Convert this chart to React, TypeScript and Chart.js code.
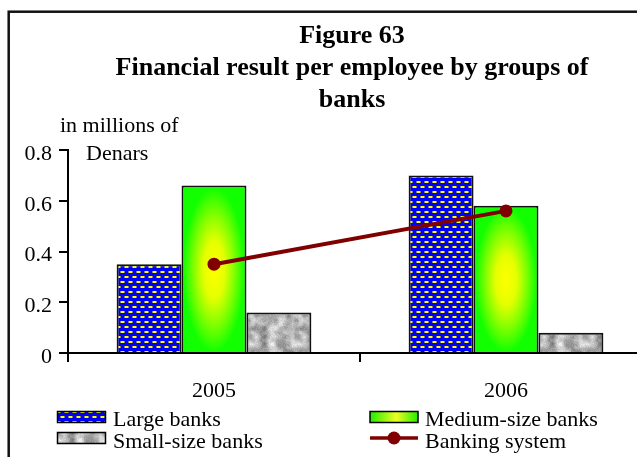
import React, { useEffect, useRef } from 'react';
import { Chart, registerables } from 'chart.js';

Chart.register(...registerables);

const categories = ['2005', '2006'];
const largeBanks = [0.35, 0.7];
const mediumBanks = [0.66, 0.58];
const smallBanks = [0.16, 0.08];
const bankingSystem = [0.35, 0.56];
const yTickLabels = ['0', '0.2', '0.4', '0.6', '0.8'];
const titleLines = ['Figure 63', 'Financial result per employee by groups of', 'banks'];
const unitLines = ['in millions of', 'Denars'];
const seriesNames = ['Large banks', 'Medium-size banks', 'Small-size banks', 'Banking system'];

const FONT = "'Liberation Serif', 'Times New Roman', serif";
const CANVAS_W = 704;
const CANVAS_H = 457;

function makeLargePattern(ctx: CanvasRenderingContext2D): CanvasPattern | string {
  const c = document.createElement('canvas');
  c.width = 8;
  c.height = 10;
  const g = c.getContext('2d');
  if (!g) return '#0000ff';
  g.fillStyle = '#0000ff';
  g.fillRect(0, 0, 8, 10);
  const dash = (x: number, y: number) => {
    g.fillStyle = '#8a8a3a';
    g.fillRect(x, y, 5, 2);
    g.fillStyle = '#ffff00';
    g.fillRect(x + 1, y, 3, 2);
  };
  dash(0, 1);
  dash(4, 6);
  dash(-4, 6);
  return ctx.createPattern(c, 'repeat') || '#0000ff';
}

function makeGranitePattern(ctx: CanvasRenderingContext2D): CanvasPattern | string {
  const S = 48;
  const c = document.createElement('canvas');
  c.width = S;
  c.height = S;
  const g = c.getContext('2d');
  if (!g) return '#c0c0c0';
  const img = g.createImageData(S, S);
  const hash = (x: number, y: number, s: number) => {
    let h = Math.imul(x ^ 0x27d4eb2d, 374761393) ^ Math.imul(y + s * 1013, 668265263);
    h = Math.imul(h ^ (h >>> 13), 1274126177);
    return ((h ^ (h >>> 16)) >>> 0) / 4294967296;
  };
  const noise = (x: number, y: number, cell: number, seed: number) => {
    const nn = S / cell;
    const gx = x / cell;
    const gy = y / cell;
    const x0 = Math.floor(gx);
    const y0 = Math.floor(gy);
    const fx = gx - x0;
    const fy = gy - y0;
    const sx = fx * fx * (3 - 2 * fx);
    const sy = fy * fy * (3 - 2 * fy);
    const v = (i: number, j: number) => hash(((i % nn) + nn) % nn, ((j % nn) + nn) % nn, seed);
    const a = v(x0, y0);
    const b = v(x0 + 1, y0);
    const c2 = v(x0, y0 + 1);
    const d = v(x0 + 1, y0 + 1);
    return (a * (1 - sx) + b * sx) * (1 - sy) + (c2 * (1 - sx) + d * sx) * sy;
  };
  for (let y = 0; y < S; y++) {
    for (let x = 0; x < S; x++) {
      const v = 0.55 * noise(x, y, 8, 1) + 0.3 * noise(x, y, 4, 2) + 0.15 * hash(x, y, 3);
      const gray = Math.max(80, Math.min(245, 95 + v * 170));
      const i = (y * S + x) * 4;
      img.data[i] = gray;
      img.data[i + 1] = gray;
      img.data[i + 2] = gray;
      img.data[i + 3] = 255;
    }
  }
  g.putImageData(img, 0, 0);
  return ctx.createPattern(c, 'repeat') || '#c0c0c0';
}

function fillEllipticGradient(ctx: CanvasRenderingContext2D, left: number, top: number, w: number, h: number) {
  if (w <= 0 || h <= 0) return;
  ctx.save();
  ctx.beginPath();
  ctx.rect(left, top, w, h);
  ctx.clip();
  ctx.translate(left + w / 2, top + h / 2);
  ctx.scale(1, h / w);
  const grad = ctx.createRadialGradient(0, 0, 0, 0, 0, w / 2);
  grad.addColorStop(0, '#ffff00');
  grad.addColorStop(0.35, '#e4ff00');
  grad.addColorStop(0.7, '#77ff00');
  grad.addColorStop(1, '#11ff00');
  ctx.fillStyle = grad;
  ctx.fillRect(-w / 2 - 2, -w / 2 - 2, w + 4, w + 4);
  ctx.restore();
}

export default function App() {
  const canvasRef = useRef<HTMLCanvasElement | null>(null);

  useEffect(() => {
    const canvas = canvasRef.current;
    if (!canvas) return;
    const ctx0 = canvas.getContext('2d');
    if (!ctx0) return;
    const largePattern = makeLargePattern(ctx0);
    const granitePattern = makeGranitePattern(ctx0);
    const BW = 2;

    const framePlugin = {
      id: 'frame',
      beforeDraw(chart: any) {
        const ctx = chart.ctx;
        ctx.save();
        ctx.fillStyle = '#ffffff';
        ctx.fillRect(0, 0, chart.width, chart.height);
        ctx.strokeStyle = '#111111';
        ctx.lineWidth = 2.5;
        ctx.strokeRect(8.7, 11.7, 800, 600);
        ctx.restore();
      },
    };

    const mediumGradientPlugin = {
      id: 'mediumGradient',
      afterDatasetDraw(chart: any, args: any) {
        if (args.index !== 1) return;
        const ctx = chart.ctx;
        args.meta.data.forEach((el: any) => {
          const p = el.getProps(['x', 'y', 'base', 'width'], true);
          const left = p.x - p.width / 2 + BW;
          const top = Math.min(p.y, p.base) + BW;
          const w = p.width - 2 * BW;
          const h = Math.abs(p.base - p.y) - BW;
          fillEllipticGradient(ctx, left, top, w, h);
        });
      },
    };

    const annotationsPlugin = {
      id: 'annotations',
      afterDraw(chart: any) {
        const ctx = chart.ctx;
        ctx.save();
        ctx.fillStyle = '#000';
        ctx.font = `22px ${FONT}`;
        ctx.textBaseline = 'alphabetic';
        ctx.textAlign = 'left';
        ctx.fillText(unitLines[0], 60, 131.5);
        ctx.fillText(unitLines[1], 86, 160);

        // legend
        const rows = [426, 447.5];
        const swatchTop = [411.5, 432.5];
        const colX = [57.5, 370];
        const textX = [113, 425];
        const sw = 48;
        const sh = 11;
        // Large banks
        ctx.fillStyle = largePattern as any;
        ctx.fillRect(colX[0], swatchTop[0], sw, sh);
        ctx.strokeStyle = '#000';
        ctx.lineWidth = 1.5;
        ctx.strokeRect(colX[0], swatchTop[0], sw, sh);
        // Medium-size banks
        const lg = ctx.createLinearGradient(colX[1], 0, colX[1] + sw, 0);
        lg.addColorStop(0, '#22ee00');
        lg.addColorStop(0.55, '#eeff22');
        lg.addColorStop(1, '#22ee00');
        ctx.fillStyle = lg;
        ctx.fillRect(colX[1], swatchTop[0], sw, sh);
        ctx.strokeRect(colX[1], swatchTop[0], sw, sh);
        // Small-size banks
        ctx.fillStyle = granitePattern as any;
        ctx.fillRect(colX[0], swatchTop[1], sw, sh);
        ctx.strokeRect(colX[0], swatchTop[1], sw, sh);
        // Banking system
        const ly = swatchTop[1] + sh / 2;
        ctx.strokeStyle = '#800000';
        ctx.lineWidth = 3.5;
        ctx.beginPath();
        ctx.moveTo(colX[1], ly);
        ctx.lineTo(colX[1] + sw, ly);
        ctx.stroke();
        ctx.fillStyle = '#800000';
        ctx.beginPath();
        ctx.arc(colX[1] + sw / 2, ly, 6.5, 0, Math.PI * 2);
        ctx.fill();

        ctx.fillStyle = '#000';
        ctx.fillText(seriesNames[0], textX[0], rows[0]);
        ctx.fillText(seriesNames[1], textX[1], rows[0]);
        ctx.fillText(seriesNames[2], textX[0], rows[1]);
        ctx.fillText(seriesNames[3], textX[1], rows[1]);
        ctx.restore();
      },
    };

    const chart = new Chart(canvas, {
      type: 'bar',
      data: {
        labels: categories,
        datasets: [
          {
            type: 'bar',
            label: seriesNames[0],
            data: largeBanks,
            backgroundColor: largePattern as any,
            borderColor: '#111',
            borderWidth: BW,
            order: 1,
          },
          {
            type: 'bar',
            label: seriesNames[1],
            data: mediumBanks,
            backgroundColor: '#22ff00',
            borderColor: '#111',
            borderWidth: BW,
            order: 1,
          },
          {
            type: 'bar',
            label: seriesNames[2],
            data: smallBanks,
            backgroundColor: granitePattern as any,
            borderColor: '#111',
            borderWidth: BW,
            order: 1,
          },
          {
            type: 'line',
            label: seriesNames[3],
            data: bankingSystem,
            borderColor: '#800000',
            backgroundColor: '#800000',
            borderWidth: 4,
            pointRadius: 6.5,
            pointBackgroundColor: '#800000',
            pointBorderColor: '#800000',
            pointBorderWidth: 0,
            order: 0,
          } as any,
        ],
      },
      options: {
        responsive: false,
        animation: false,
        events: [],
        layout: { padding: { top: 0, left: 0, right: 0, bottom: 44 } },
        datasets: { bar: { categoryPercentage: 0.667, barPercentage: 1 } } as any,
        plugins: {
          legend: { display: false },
          tooltip: { enabled: false },
          title: {
            display: true,
            text: titleLines,
            color: '#000',
            font: { family: FONT, size: 26, weight: 'bold', lineHeight: '32px' } as any,
            padding: { top: 20, bottom: 34 },
          },
        },
        scales: {
          x: {
            type: 'category',
            offset: true,
            grid: {
              offset: true,
              drawOnChartArea: false,
              drawTicks: true,
              tickLength: 9,
              lineWidth: 2,
              color: '#000',
              tickColor: '#000',
            },
            border: { display: true, color: '#000', width: 2 },
            ticks: {
              font: { family: FONT, size: 22 },
              color: '#000',
              padding: 16,
              maxRotation: 0,
              autoSkip: false,
            },
            afterFit: (s: any) => {
              s.height = 60;
            },
          },
          y: {
            type: 'linear',
            position: 'left',
            min: 0,
            max: 0.8,
            grid: {
              drawOnChartArea: false,
              drawTicks: true,
              tickLength: 9,
              lineWidth: 2,
              color: '#000',
              tickColor: '#000',
            },
            border: { display: true, color: '#000', width: 2 },
            ticks: {
              stepSize: 0.2,
              font: { family: FONT, size: 22 },
              color: '#000',
              padding: 7,
              labelOffset: 4,
              callback: (_v: any, i: number) => yTickLabels[i],
            },
            afterFit: (s: any) => {
              s.width = 68;
            },
          },
          spacer: {
            type: 'linear',
            axis: 'y',
            position: 'right',
            display: true,
            grid: { display: false, drawTicks: false },
            border: { display: false },
            ticks: { display: false },
            afterFit: (s: any) => {
              s.width = 52;
            },
          } as any,
        },
      },
      plugins: [framePlugin, mediumGradientPlugin, annotationsPlugin],
    });

    return () => {
      chart.destroy();
    };
  }, []);

  return (
    <div
      style={{
        position: 'fixed',
        left: 0,
        top: 0,
        width: 637,
        height: 457,
        overflow: 'hidden',
        background: '#fff',
      }}
    >
      <canvas
        ref={canvasRef}
        width={CANVAS_W}
        height={CANVAS_H}
        style={{ display: 'block', width: CANVAS_W, height: CANVAS_H }}
      />
    </div>
  );
}
